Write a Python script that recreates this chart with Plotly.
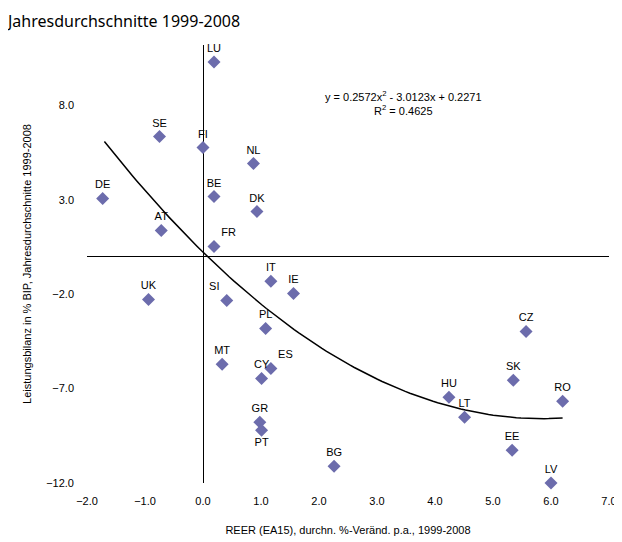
import numpy as np
import plotly.graph_objects as go

## Country data: REER change (x) vs current account balance (y)
countries = ['LU', 'SE', 'FI', 'NL', 'DE', 'BE', 'DK', 'AT', 'FR', 'IT', 'IE', 'UK', 'SI', 'PL',
             'CZ', 'MT', 'ES', 'CY', 'SK', 'HU', 'RO', 'LT', 'GR', 'PT', 'EE', 'BG', 'LV']
reer = [0.19, -0.75, 0.0, 0.87, -1.73, 0.19, 0.93, -0.72, 0.19, 1.17, 1.56, -0.94, 0.41, 1.08,
        5.57, 0.33, 1.17, 1.01, 5.35, 4.24, 6.2, 4.51, 0.98, 1.01, 5.33, 2.26, 6.0]
balance = [10.3, 6.35, 5.77, 4.92, 3.07, 3.17, 2.38, 1.38, 0.53, -1.32, -1.96, -2.28, -2.33, -3.81,
           -3.97, -5.71, -5.93, -6.46, -6.56, -7.46, -7.67, -8.52, -8.78, -9.21, -10.26, -11.11, -12.0]
label_pos = ['top center'] * len(countries)
label_pos[countries.index('PT')] = 'bottom center'
label_pos[countries.index('SI')] = 'top left'
label_pos[countries.index('ES')] = 'top right'
label_pos[countries.index('FR')] = 'top right'

## Trendline coefficients as printed on the chart
trend_coef = [0.2572, -3.0123, 0.2271]
trend_x = np.linspace(-1.7, 6.2, 100)
trend_y = np.polyval(trend_coef, trend_x)

fig = go.Figure()
fig.add_trace(go.Scatter(x=trend_x, y=trend_y, mode='lines',
                         line=dict(color='black', width=1.5), hoverinfo='skip'))
fig.add_trace(go.Scatter(x=reer, y=balance, mode='markers+text', cliponaxis=False,
                         text=countries, textposition=label_pos,
                         textfont=dict(size=11, color='black', family='Liberation Sans'),
                         marker=dict(symbol='diamond', color='#6c6cac', size=10)))

fig.add_annotation(x=0.76, y=0.905, xref='paper', yref='paper', showarrow=False,
                   text='y = 0.2572x<sup>2</sup> - 3.0123x + 0.2271<br>R<sup>2</sup> = 0.4625',
                   font=dict(size=11, family='Liberation Sans', color='black'), align='center')

fig.update_layout(title=dict(text='Jahresdurchschnitte 1999-2008', x=0.0, y=0.985,
                             xanchor='left', yanchor='top',
                             font=dict(size=16, family='Noto Sans', color='black')),
                  width=622, height=542, showlegend=False,
                  plot_bgcolor='white', paper_bgcolor='white',
                  margin=dict(l=79, r=21, t=37, b=67))
fig.update_xaxes(range=[-2, 7], dtick=1, tickformat='.1f', showgrid=False, automargin=False,
                 zeroline=True, zerolinecolor='black', zerolinewidth=1,
                 ticklabelstandoff=10,
                 tickfont=dict(size=11, family='Liberation Sans', color='black'),
                 title=dict(text='REER (EA15), durchn. %-Veränd. p.a., 1999-2008',
                            font=dict(size=11, family='Liberation Sans', color='black'),
                            standoff=20))
fig.update_yaxes(range=[-12, 11.2], tick0=-12, dtick=5, tickformat='.1f', showgrid=False,
                 automargin=False, zeroline=True, zerolinecolor='black', zerolinewidth=1,
                 ticklabelstandoff=12,
                 tickfont=dict(size=11, family='Liberation Sans', color='black'),
                 title=dict(text='Leistungsbilanz in % BIP, Jahresdurchschnitte 1999-2008',
                            font=dict(size=11, family='Liberation Sans', color='black'),
                            standoff=12))

fig.write_html("out.html")
